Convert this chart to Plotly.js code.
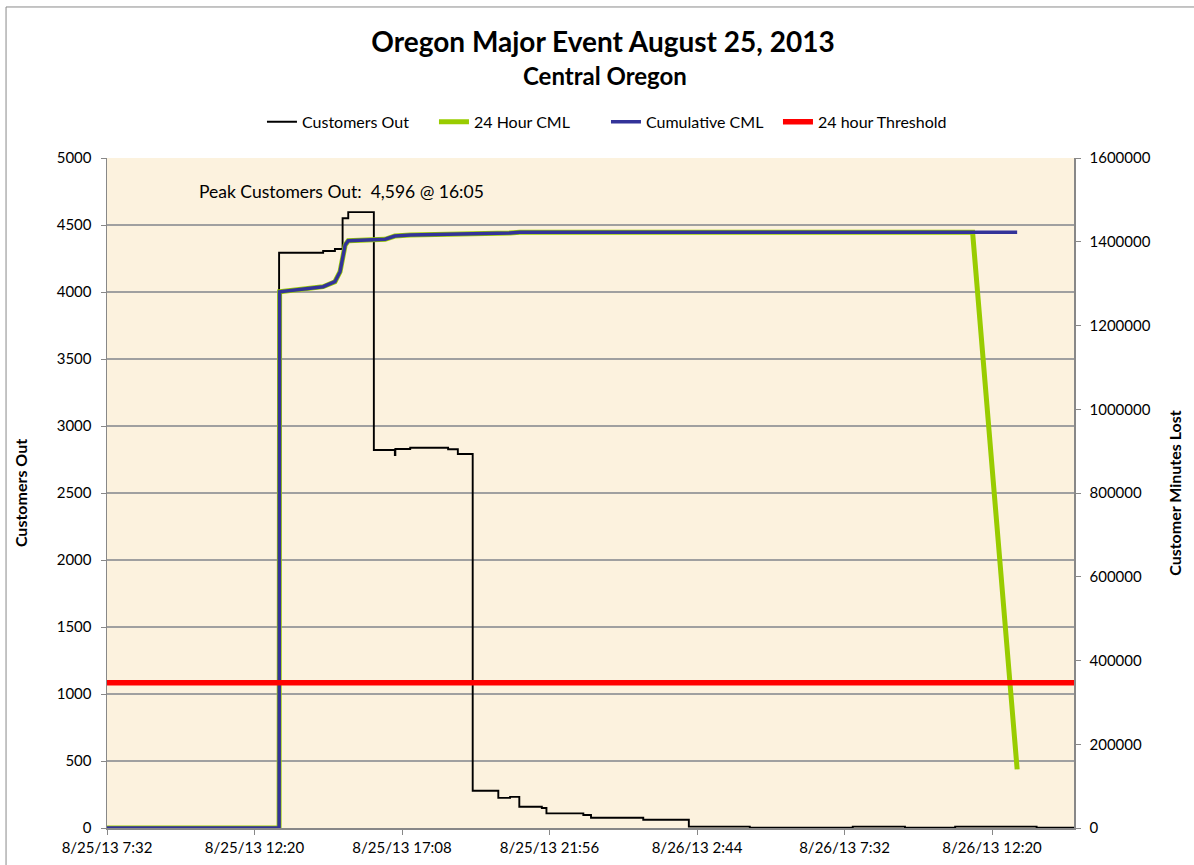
<!DOCTYPE html>
<html>
<head>
<meta charset="utf-8">
<script src="https://cdn.plot.ly/plotly-3.0.1.min.js"></script>
<style>
html,body{margin:0;padding:0;background:#fff;}
#chart{width:1194px;height:865px;}
</style>
</head>
<body>
<div id="chart"></div>
<script>
// ---- data ----
const outTimes = [
  '2013-08-25 07:32','2013-08-25 13:08','2013-08-25 14:34','2013-08-25 14:57',
  '2013-08-25 15:12','2013-08-25 15:23','2013-08-25 16:13','2013-08-25 16:54',
  '2013-08-25 16:55','2013-08-25 17:24','2013-08-25 18:38','2013-08-25 18:57',
  '2013-08-25 19:26','2013-08-25 20:16','2013-08-25 20:39','2013-08-25 20:57',
  '2013-08-25 21:41','2013-08-25 21:50','2013-08-25 23:02','2013-08-25 23:17',
  '2013-08-26 00:59','2013-08-26 02:28','2013-08-26 04:27','2013-08-26 07:48',
  '2013-08-26 09:30','2013-08-26 11:08','2013-08-26 13:47','2013-08-26 15:00'
];
const customersOut = [
  0, 4293, 4306, 4321,
  4550, 4596, 2821, 2784,
  2828, 2838, 2826, 2791,
  278, 225, 232, 159,
  149, 109, 97, 77,
  62, 10, 3, 10,
  3, 10, 3, 3
];

const cml24Times = [
  '2013-08-25 07:32','2013-08-25 13:08','2013-08-25 13:09','2013-08-25 14:34',
  '2013-08-25 14:57','2013-08-25 15:07','2013-08-25 15:17','2013-08-25 15:23',
  '2013-08-25 16:35','2013-08-25 16:54','2013-08-25 17:24','2013-08-25 19:14',
  '2013-08-25 19:21','2013-08-25 20:39','2013-08-25 20:58','2013-08-26 11:42',
  '2013-08-26 13:09'
];
const cml24Values = [
  0, 0, 1280700, 1292700,
  1304600, 1328500, 1392200, 1402500,
  1405900, 1413700, 1416100, 1417800,
  1419200, 1420900, 1422600, 1422600,
  140000
];

const cumTimes = [
  '2013-08-25 07:32','2013-08-25 13:08','2013-08-25 13:09','2013-08-25 14:34',
  '2013-08-25 14:57','2013-08-25 15:07','2013-08-25 15:17','2013-08-25 15:23',
  '2013-08-25 16:35','2013-08-25 16:54','2013-08-25 17:24','2013-08-25 19:14',
  '2013-08-25 19:21','2013-08-25 20:39','2013-08-25 20:58','2013-08-26 13:09'
];
const cumValues = [
  0, 0, 1280700, 1292700,
  1304600, 1328500, 1392200, 1402500,
  1405900, 1413700, 1416100, 1417800,
  1419200, 1420900, 1422600, 1422600
];

const thresholdTimes = ['2013-08-25 07:32','2013-08-26 15:00'];
const thresholdValues = [347000, 347000];

const xTickVals = [
  '2013-08-25 07:32','2013-08-25 12:20','2013-08-25 17:08','2013-08-25 21:56',
  '2013-08-26 02:44','2013-08-26 07:32','2013-08-26 12:20'
];
const xTickLabels = [
  '8/25/13 7:32','8/25/13 12:20','8/25/13 17:08','8/25/13 21:56',
  '8/26/13 2:44','8/26/13 7:32','8/26/13 12:20'
];
const xRange = ['2013-08-25 07:32','2013-08-26 15:00'];

const chartTitle = 'Oregon Major Event August 25, 2013';
const chartSubtitle = 'Central Oregon';
const peakNote = 'Peak Customers Out:\u00a0 4,596 @ 16:05';

// ---- chart ----
const FONT = 'Lato, "Open Sans", sans-serif';

const traces = [
  {
    name: 'Customers Out', x: outTimes, y: customersOut, type: 'scatter', mode: 'lines',
    line: {color: '#000000', width: 1.9, shape: 'hv'}, yaxis: 'y'
  },
  {
    name: '24 Hour CML', x: cml24Times, y: cml24Values, type: 'scatter', mode: 'lines',
    line: {color: '#99CC00', width: 5}, yaxis: 'y2'
  },
  {
    name: 'Cumulative CML', x: cumTimes, y: cumValues, type: 'scatter', mode: 'lines',
    line: {color: '#333399', width: 3.5}, yaxis: 'y2'
  },
  {
    name: '24 hour Threshold', x: thresholdTimes, y: thresholdValues, type: 'scatter', mode: 'lines',
    line: {color: '#FF0000', width: 5.5}, yaxis: 'y2'
  }
];

const layout = {
  width: 1194, height: 865,
  margin: {l: 107, r: 120, t: 158, b: 37, pad: 0},
  paper_bgcolor: '#ffffff',
  plot_bgcolor: '#FCF2DE',
  font: {family: FONT, size: 15, color: '#000'},
  showlegend: true,
  title: {
    text: '<b>' + chartTitle + '</b>',
    font: {family: FONT, size: 28, color: '#000'},
    x: 0.505, xanchor: 'center', xref: 'container',
    y: 1 - 42 / 865, yanchor: 'middle', yref: 'container'
  },
  legend: {
    orientation: 'h', x: 0.516, xanchor: 'center', y: 1.054, yanchor: 'middle',
    font: {family: FONT, size: 16, color: '#000'}, bgcolor: 'rgba(0,0,0,0)',
    itemwidth: 30, traceorder: 'normal', entrywidth: 127, entrywidthmode: 'pixels'
  },
  xaxis: {
    type: 'date', range: xRange,
    tickmode: 'array', tickvals: xTickVals, ticktext: xTickLabels,
    ticks: 'outside', ticklen: 5, tickcolor: '#888', tickwidth: 1,
    showline: true, linecolor: '#888', linewidth: 1.5,
    showgrid: false, zeroline: false,
    tickfont: {family: FONT, size: 15, color: '#000'}
  },
  yaxis: {
    range: [0, 5000], dtick: 500, tick0: 0, tickformat: 'd',
    ticks: 'outside', ticklen: 5, tickcolor: '#888',
    showline: true, linecolor: '#888', linewidth: 1.5,
    showgrid: true, gridcolor: '#A0A0A0', gridwidth: 1.2,
    zeroline: false, ticklabelstandoff: 6,
    tickfont: {family: FONT, size: 15, color: '#000'},
    title: {text: '<b>Customers Out</b>', font: {family: FONT, size: 16, color: '#000'}, standoff: 25}
  },
  yaxis2: {
    range: [0, 1600000], dtick: 200000, tick0: 0, tickformat: 'd',
    overlaying: 'y', side: 'right',
    ticks: 'outside', ticklen: 5, tickcolor: '#888',
    showline: true, linecolor: '#888', linewidth: 1.5,
    showgrid: false, zeroline: false, ticklabelstandoff: 6,
    tickfont: {family: FONT, size: 15, color: '#000'},
    title: {text: '<b>Customer Minutes Lost</b>', font: {family: FONT, size: 16, color: '#000'}, standoff: 20}
  },
  annotations: [
    {
      text: '<b>' + chartSubtitle + '</b>',
      xref: 'paper', yref: 'paper', x: (605 - 107) / 967, y: (828 - 76) / 670,
      xanchor: 'center', yanchor: 'middle', showarrow: false,
      font: {family: FONT, size: 24, color: '#000'}
    },
    {
      text: peakNote,
      xref: 'paper', yref: 'paper', x: (197 - 107) / 967, y: (828 - 191) / 670,
      xanchor: 'left', yanchor: 'middle', showarrow: false,
      font: {family: FONT, size: 17.5, color: '#000'}
    }
  ],
  shapes: [
    {
      type: 'rect', xref: 'paper', yref: 'paper',
      x0: -0.1044, x1: 1.13, y0: -0.09, y1: 1.2254,
      line: {color: '#8a8a8a', width: 1}, fillcolor: 'rgba(0,0,0,0)', layer: 'above'
    }
  ]
};

Plotly.newPlot('chart', traces, layout, {displayModeBar: false, staticPlot: true});
</script>
</body>
</html>
